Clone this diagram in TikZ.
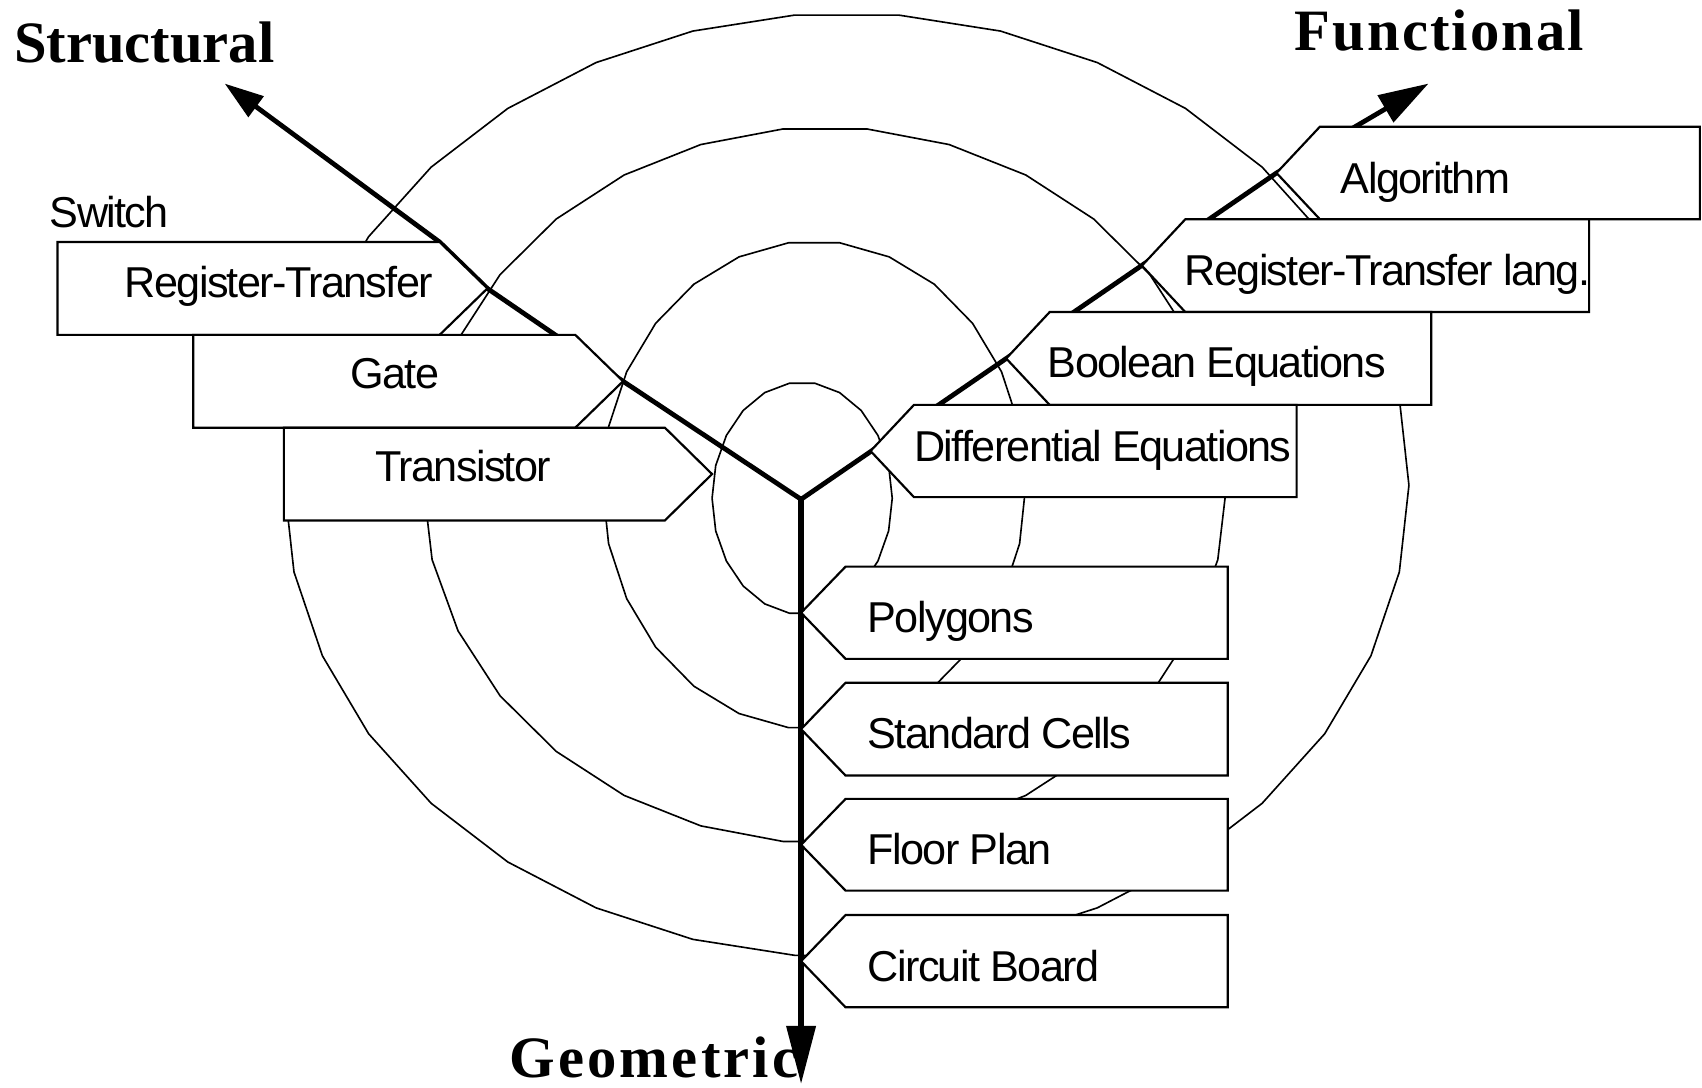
\documentclass[tikz,border=0pt]{standalone}
\usepackage{fontspec}
\setmainfont{Liberation Sans}
\newfontfamily\boxfont{Liberation Sans}[LetterSpace=-3.8]
\newfontfamily\titlefont{Liberation Serif}
\usetikzlibrary{arrows.meta}
\begin{document}
\begin{tikzpicture}[x=0.5pt,y=-0.5pt,
  ring/.style={line width=0.75pt, line join=round},
  axisline/.style={line width=2.2pt, line cap=round, line join=round},
  ybox/.style={draw, fill=white, line width=1pt, line join=miter},
  lbl/.style={anchor=base west, inner sep=0pt, font=\boxfont\fontsize{19.9pt}{22pt}\selectfont},
  ttl/.style={anchor=base west, inner sep=0pt, font=\titlefont\bfseries\fontsize{27pt}{30pt}\selectfont}]
\useasboundingbox (0,0) rectangle (1568,1002);
\fill[white] (0,0) rectangle (1568,1002);

% concentric rings (drawn as fine polygons, like the reference)
\draw[ring] plot[domain=0:360, samples=23] ({739+83*cos(\x)},{459+107*sin(\x)}) -- cycle;
\draw[ring] plot[domain=0:360, samples=27] ({750+195*cos(\x)},{447+225*sin(\x)}) -- cycle;
\draw[ring] plot[domain=0:360, samples=31] ({760+370*cos(\x)},{447+330*sin(\x)}) -- cycle;
\draw[ring] plot[domain=0:360, samples=35] ({780+518*cos(\x)},{447+435*sin(\x)}) -- cycle;

% axis points
\coordinate (C) at (738,460);
\coordinate (S) at (207,77);
\coordinate (F) at (1316,77);
\coordinate (G) at (738,999);
\coordinate (rtT) at (449,265.75);
\coordinate (rtC) at (405,223);
\coordinate (gaT) at (574,351.25);
\coordinate (alT) at (1176,159.35);

% axes
\draw[axisline, -{Triangle[length=18pt,width=11.5pt]}] (C) -- (gaT) -- (rtT) -- (rtC) -- (S);
\draw[axisline, -{Triangle[length=23pt,width=14pt]}] (C) -- (alT) -- (F);
\draw[axisline, line width=3pt, -{Triangle[length=27pt,width=13pt]}] (C) -- (G);

% structural boxes (pointing right)
\filldraw[ybox] (53,223) -- (405,223) -- (449,265.75) -- (405,308.5) -- (53,308.5) -- cycle;
\filldraw[ybox] (178,308.5) -- (530,308.5) -- (574,351.25) -- (530,394) -- (178,394) -- cycle;
\filldraw[ybox] (261.5,394) -- (612.5,394) -- (656,436.75) -- (612.5,479.5) -- (261.5,479.5) -- cycle;

% functional boxes (pointing left)
\filldraw[ybox] (1176,159.35) -- (1216,116.7) -- (1566,116.7) -- (1566,202) -- (1216,202) -- cycle;
\filldraw[ybox] (1052,244.75) -- (1092,202) -- (1464,202) -- (1464,287.5) -- (1092,287.5) -- cycle;
\filldraw[ybox] (927,330.25) -- (967,287.5) -- (1318.5,287.5) -- (1318.5,373) -- (967,373) -- cycle;
\filldraw[ybox] (802,415.5) -- (842,373) -- (1194.5,373) -- (1194.5,458) -- (842,458) -- cycle;

% geometric boxes (pointing left, tips on axis)
\filldraw[ybox] (738,564.5) -- (779,522) -- (1131,522) -- (1131,607) -- (779,607) -- cycle;
\filldraw[ybox] (738,671.75) -- (779,629) -- (1131,629) -- (1131,714.5) -- (779,714.5) -- cycle;
\filldraw[ybox] (738,778.25) -- (779,736) -- (1131,736) -- (1131,820.5) -- (779,820.5) -- cycle;
\filldraw[ybox] (738,885.5) -- (779,843) -- (1131,843) -- (1131,928) -- (779,928) -- cycle;

% labels
\node[lbl] (sw) at (45.5,209.7) {Switch};
\node[lbl] (rt) at (114.5,273.9) {Register-Transfer};
\node[lbl] (ga) at (322.5,357.7) {Gate};
\node[lbl] (tr) at (345.5,443.7) {Transistor};
\node[lbl] (al) at (1235,178) {Algorithm};
\node[lbl] (rl) at (1091,262.6) {Register-Transfer lang.};
\node[lbl] (be) at (965,347.9) {Boolean Equations};
\node[lbl] (de) at (842,424.7) {Differential Equations};
\node[lbl] (po) at (799,583) {Polygons};
\node[lbl] (sc) at (799,690) {Standard Cells};
\node[lbl] (fp) at (799,796) {Floor Plan};
\node[lbl] (cb) at (799,904) {Circuit Board};

% titles
\node[ttl] (tS) at (12.5,57.5) {Structural};
\node[ttl] (tF) at (1192.6,46.2) {\addfontfeatures{LetterSpace=3.5}Functional};
\node[ttl] (tG) at (469,992.6) {\addfontfeatures{LetterSpace=5.4}Geometric};
\end{tikzpicture}
\end{document}
